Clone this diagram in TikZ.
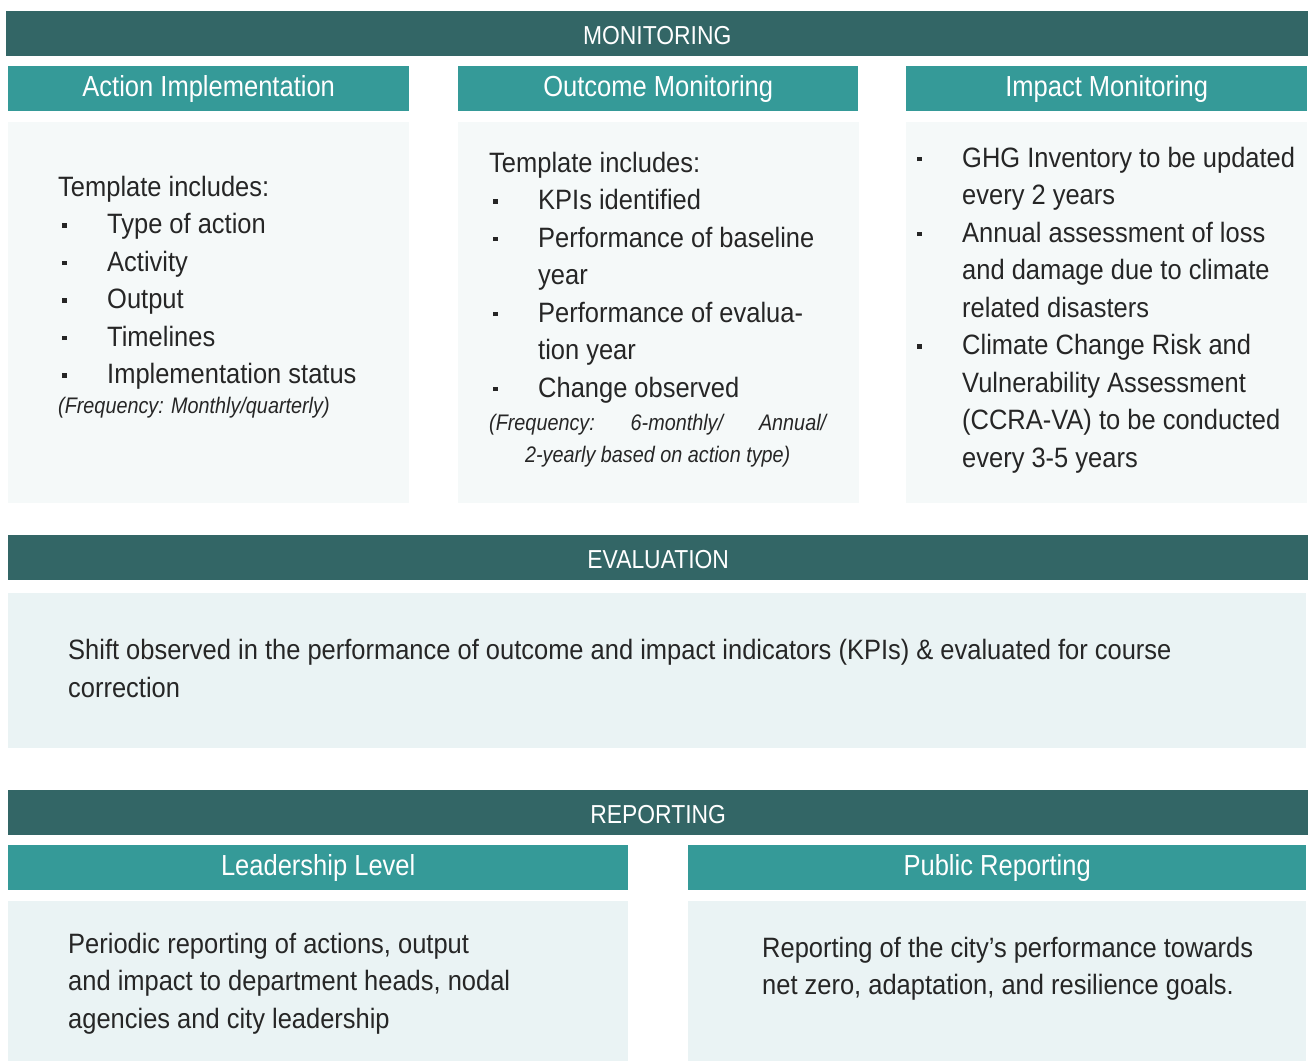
\documentclass[tikz,border=0pt]{standalone}
\usepackage{fontspec}
\setmainfont{Liberation Sans}[FakeStretch=0.88]
\newfontfamily\bodyfont{Liberation Sans}[FakeStretch=0.91]
\usepackage{xcolor}
\usepackage{tikz}
\usetikzlibrary{positioning}
\definecolor{mondark}{HTML}{336666}
\definecolor{monmid}{HTML}{359A98}
\definecolor{monpale}{HTML}{F5F9F9}
\definecolor{monlight}{HTML}{EAF3F4}
\definecolor{montext}{HTML}{262626}
\newcommand{\bul}{\makebox[49pt][l]{\hspace{4pt}\rule[6pt]{4.5pt}{4.5pt}}}
\newcommand{\ind}{\hspace*{49pt}}
\tikzset{
  bandbox/.style={fill=mondark, text=white, anchor=north west, inner sep=0pt, text height=33pt, text depth=12pt, font=\fontsize{26}{30}\selectfont},
  headbox/.style={fill=monmid, text=white, anchor=north west, inner sep=0pt, text height=30pt, text depth=15pt, font=\fontsize{29}{34}\selectfont},
  panelbox/.style={fill=monpale, inner sep=0pt},
  widebox/.style={fill=monlight, inner sep=0pt},
  % base anchor sits on the last line
  bodytext/.style={anchor=base west, inner sep=0pt, align=left, text=montext, font=\bodyfont\fontsize{28}{37.5}\selectfont},
  freqtext/.style={anchor=base west, inner sep=0pt, align=left, text=montext, font=\fontsize{22.5}{32}\selectfont\itshape}
}

\begin{document}
\begin{tikzpicture}[x=1pt, y=-1pt, node distance=10pt]
  \path[fill=white] (0,0) rectangle (1309,1062);
  \useasboundingbox (0,0) rectangle (1309,1062);

  % monitoring
  \node[bandbox, minimum width=1302pt] (monbar) at (6,11) {MONITORING};
  \node[headbox, minimum width=401pt] (aihead) at (8,66) {Action Implementation};
  \node[headbox, minimum width=400pt] (omhead) at (458,66) {Outcome Monitoring};
  \node[headbox, minimum width=401pt] (imhead) at (906,66) {Impact Monitoring};
  \node[panelbox, minimum width=401pt, minimum height=381pt, below=of aihead] (aibody) {};
  \node[panelbox, minimum width=401pt, minimum height=381pt, below=of omhead] (ombody) {};
  \node[panelbox, minimum width=401pt, minimum height=381pt, below=of imhead] (imbody) {};

  \node[bodytext] (aitext) at (58,383.5) {Template includes:\\\bul Type of action\\\bul Activity\\\bul Output\\\bul Timelines\\\bul Implementation status};
  \node[freqtext] (aifreq) at (58,413) {(Frequency: Monthly/quarterly)};

  \node[bodytext] (omtext) at (489,397) {Template includes:\\\bul KPIs identified\\\bul Performance of baseline\\\ind year\\\bul Performance of evalua-\\\ind tion year\\\bul Change observed};
  \node[freqtext, align=center] (omfreq) at (489,462) {\makebox[337pt][l]{(Frequency:\hfill 6-monthly/\hfill Annual/}\\2-yearly based on action type)};

  \node[bodytext] (imtext) at (913,467) {\bul GHG Inventory to be updated\\\ind every 2 years\\\bul Annual assessment of loss\\\ind and damage due to climate\\\ind related disasters\\\bul Climate Change Risk and\\\ind Vulnerability Assessment\\\ind (CCRA-VA) to be conducted\\\ind every 3-5 years};

  % evaluation
  \node[bandbox, minimum width=1300pt] (evbar) at (8,535) {EVALUATION};
  \node[widebox, anchor=north west, minimum width=1298pt, minimum height=155pt] (evbody) at (8,593) {};
  \node[bodytext] (evtext) at (68,697) {Shift observed in the performance of outcome and impact indicators (KPIs) \& evaluated for course\\correction};

  % reporting
  \node[bandbox, minimum width=1300pt] (repbar) at (8,790) {REPORTING};
  \node[headbox, minimum width=620pt] (ldhead) at (8,845) {Leadership Level};
  \node[headbox, minimum width=618pt] (pbhead) at (688,845) {Public Reporting};
  \node[widebox, minimum width=620pt, minimum height=160pt, below=of ldhead] (ldbody) {};
  \node[widebox, minimum width=618pt, minimum height=160pt, below=of pbhead] (pbbody) {};

  \node[bodytext] (ldtext) at (68,1028) {Periodic reporting of actions, output\\and impact to department heads, nodal\\agencies and city leadership};
  \node[bodytext] (pbtext) at (762,994.5) {Reporting of the city’s performance towards\\net zero, adaptation, and resilience goals.};
\end{tikzpicture}
\end{document}
